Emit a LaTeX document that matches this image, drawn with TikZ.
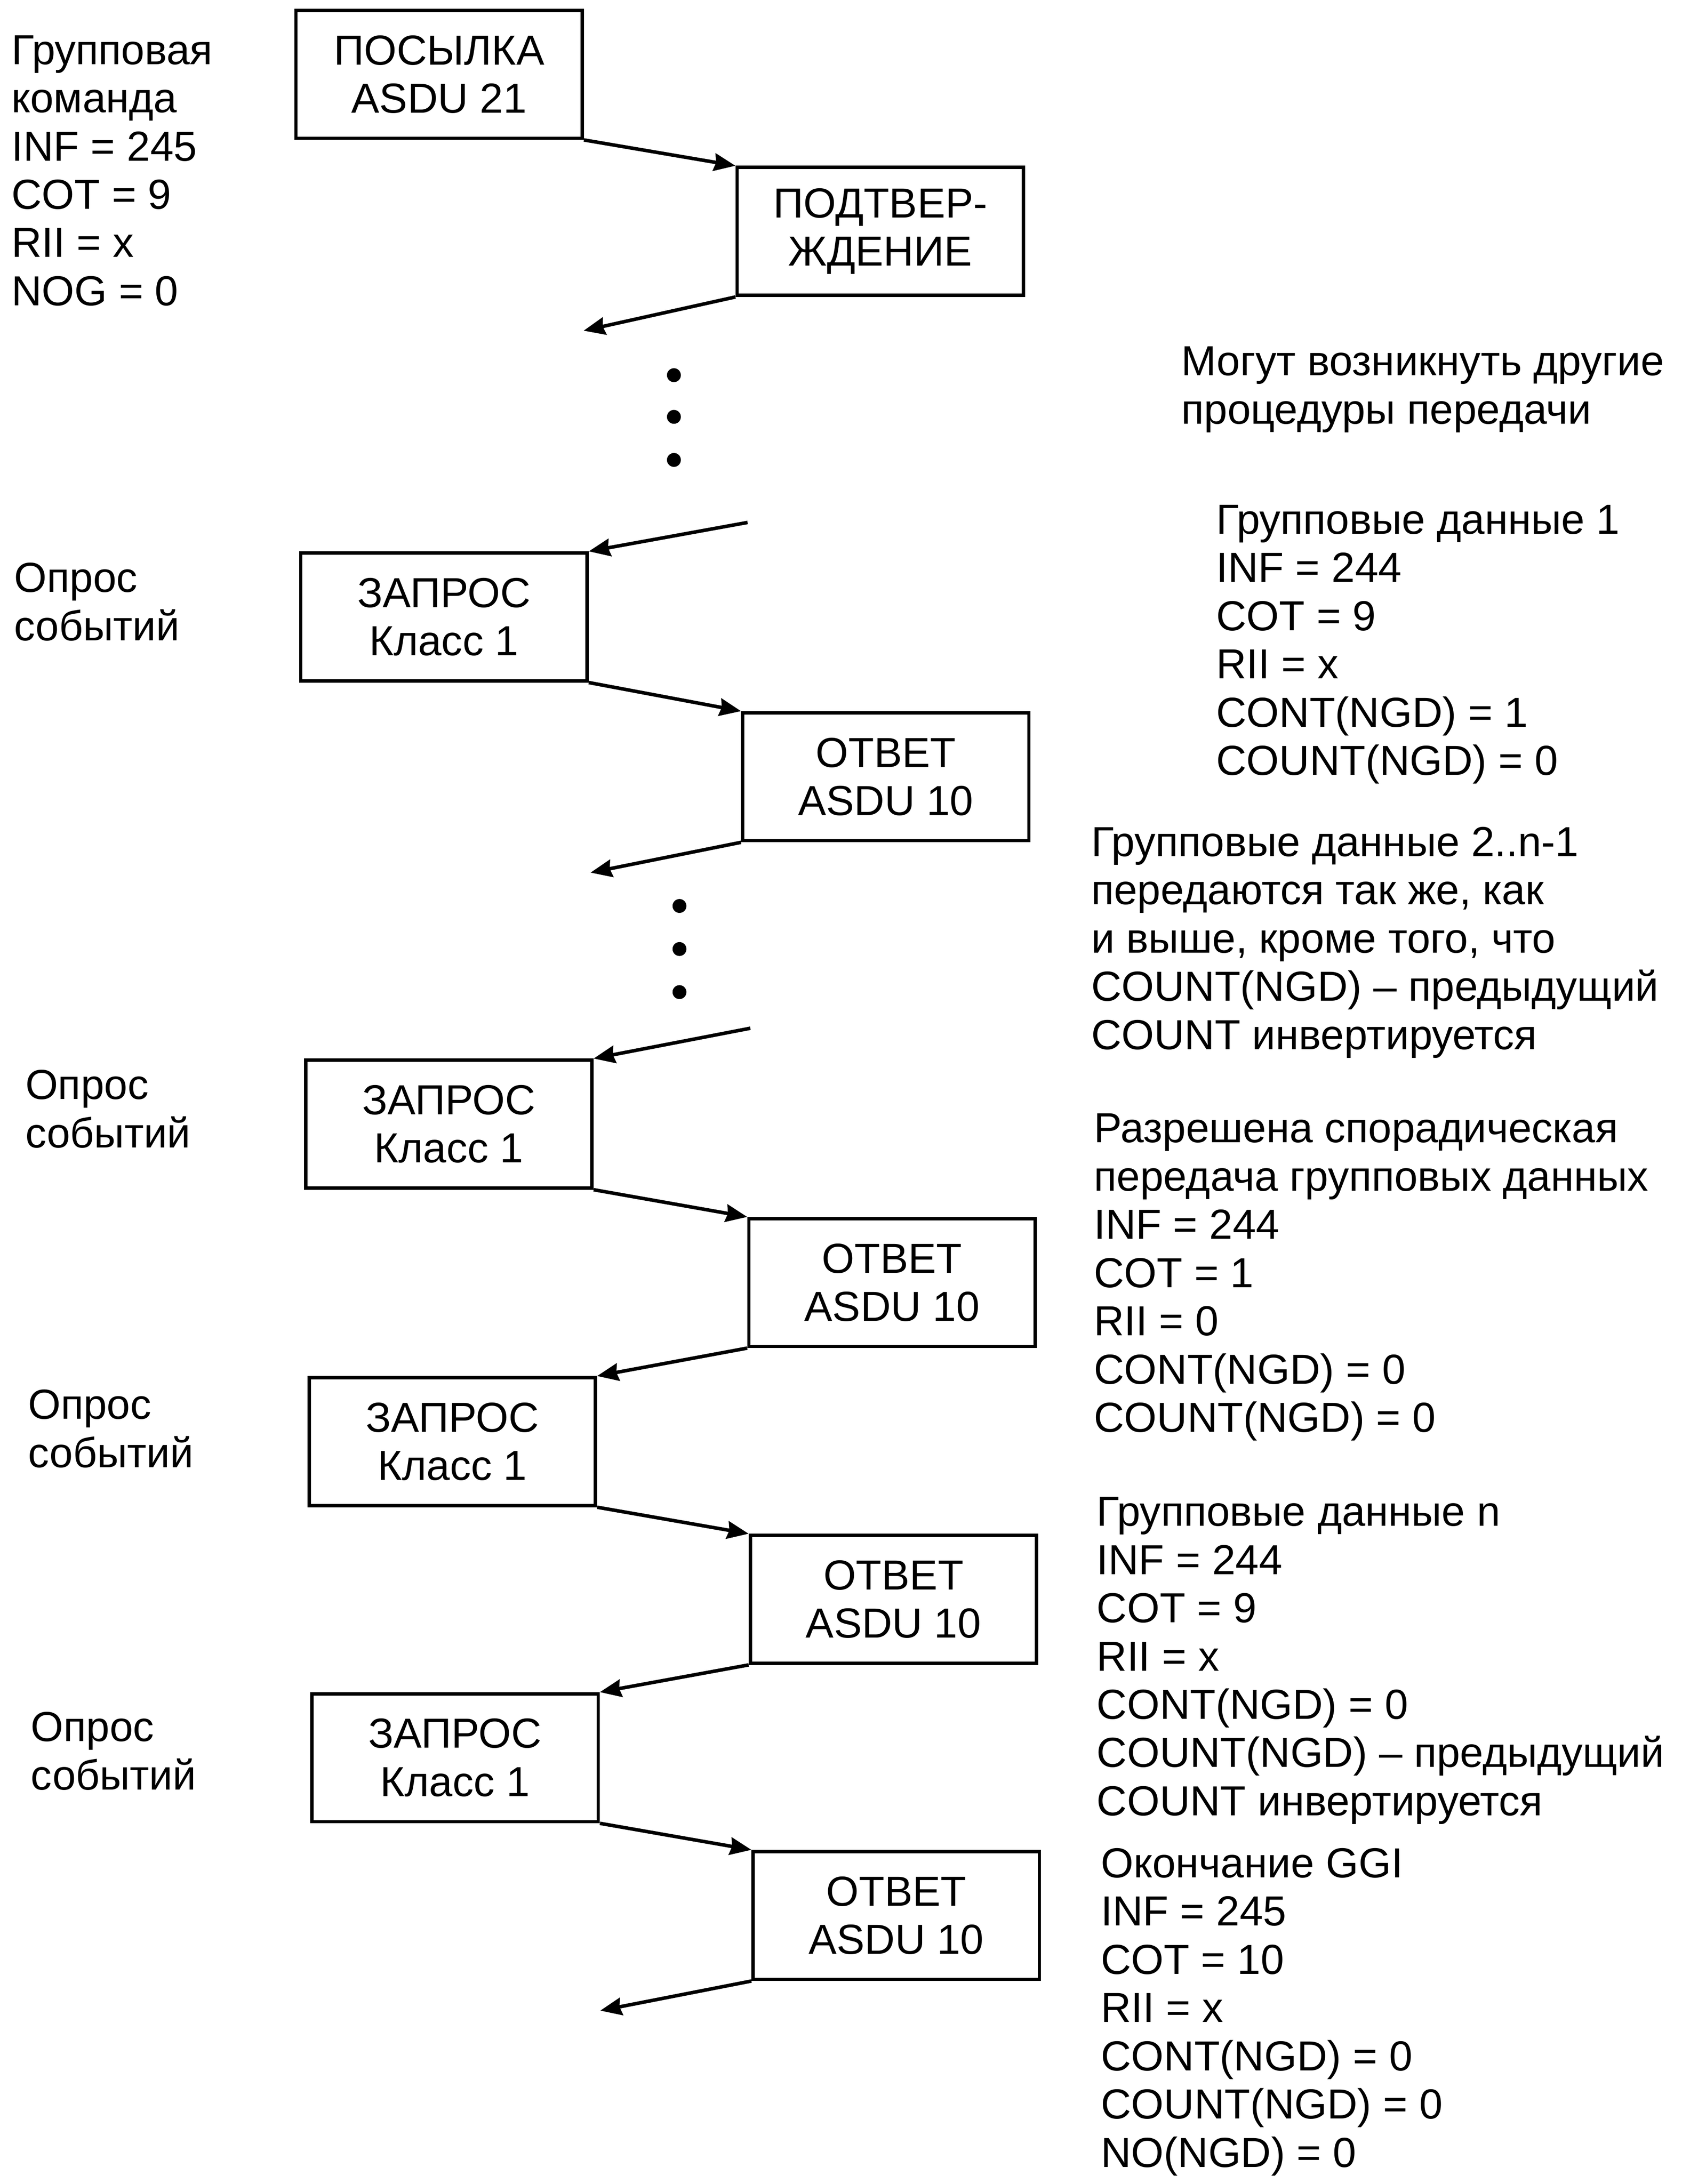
\documentclass[tikz,border=0pt]{standalone}
\usepackage{fontspec}
\setmainfont{Liberation Sans}
\usetikzlibrary{arrows.meta}
\newcommand{\fs}{\fontsize{21.5pt}{24.7pt}\selectfont}
\newcommand{\topln}{\rule{0pt}{1em}}
\begin{document}
\begin{tikzpicture}[x=0.025cm,y=-0.025cm]
                \tikzset{frame/.style = {shape=rectangle,draw,line width=1.7pt,minimum width=5.15cm,minimum height=2.3cm,align=center,font=\fs}}
                \tikzset{txt/.style = {anchor=north west,align=left,inner sep=0pt,font=\fs}}
                \tikzset{edge/.style = {line width=1.8pt,-{Stealth[length=11pt,width=9pt,inset=1pt]}}}
                \useasboundingbox (0,0) rectangle (1216,1571.8);

                \node[frame] (post) at (316, 53.5) {ПОСЫЛКА\\ASDU 21};
                \node[frame] (ack) at (633.5, 166.5) {ПОДТВЕР-\\ЖДЕНИЕ};
                \node[frame] (req1) at (319.5, 444) {ЗАПРОС\\Класс 1};
                \node[frame] (resp1) at (637.5, 559) {ОТВЕТ\\ASDU 10};
                \node[frame] (req2) at (323, 809) {ЗАПРОС\\Класс 1};
                \node[frame] (resp2) at (642, 923) {ОТВЕТ\\ASDU 10};
                \node[frame] (req3) at (325.5, 1037.5) {ЗАПРОС\\Класс 1};
                \node[frame] (resp3) at (643, 1151) {ОТВЕТ\\ASDU 10};
                \node[frame] (req4) at (327.5, 1265) {ЗАПРОС\\Класс 1};
                \node[frame] (resp4) at (645, 1378.5) {ОТВЕТ\\ASDU 10};

                \coordinate (e1) at (420, 238);
                \coordinate (s1) at (538, 376);
                \coordinate (e2) at (425, 628);
                \coordinate (s2) at (540, 740);
                \coordinate (e3) at (432, 1447);

                \draw[edge] (post.south east) to (ack.north west);
                \draw[edge] (ack.south west) to (e1);
                \draw[edge] (s1) to (req1.north east);
                \draw[edge] (req1.south east) to (resp1.north west);
                \draw[edge] (resp1.south west) to (e2);
                \draw[edge] (s2) to (req2.north east);
                \draw[edge] (req2.south east) to (resp2.north west);
                \draw[edge] (resp2.south west) to (req3.north east);
                \draw[edge] (req3.south east) to (resp3.north west);
                \draw[edge] (resp3.south west) to (req4.north east);
                \draw[edge] (req4.south east) to (resp4.north west);
                \draw[edge] (resp4.south west) to (e3);

                \foreach \y in {270,300,331} \fill (485,\y) circle (5);
                \foreach \y in {652,683,714} \fill (489,\y) circle (5);

                \node[txt] (cmd) at (8, 15.7) {\topln Групповая\\команда\\INF = 245\\COT = 9\\RII = x\\NOG = 0};
                \node[txt] (poll1) at (10, 395.7) {\topln Опрос\\событий};
                \node[txt] (poll2) at (18, 760.7) {\topln Опрос\\событий};
                \node[txt] (poll3) at (20, 990.7) {\topln Опрос\\событий};
                \node[txt] (poll4) at (22, 1222.7) {\topln Опрос\\событий};

                \node[txt] (other) at (850, 239.7) {\topln Могут возникнуть другие\\процедуры передачи};
                \node[txt] (gd1) at (875, 353.7) {\topln Групповые данные 1\\INF = 244\\COT = 9\\RII = x\\CONT(NGD) = 1\\COUNT(NGD) = 0};
                \node[txt] (gdmid) at (785, 585.7) {\topln Групповые данные 2..n-1\\передаются так же, как\\и выше, кроме того, что\\COUNT(NGD) – предыдущий\\COUNT инвертируется};
                \node[txt] (spor) at (787, 791.7) {\topln Разрешена спорадическая\\передача групповых данных\\INF = 244\\COT = 1\\RII = 0\\CONT(NGD) = 0\\COUNT(NGD) = 0};
                \node[txt] (gdn) at (789, 1067.7) {\topln Групповые данные n\\INF = 244\\COT = 9\\RII = x\\CONT(NGD) = 0\\COUNT(NGD) – предыдущий\\COUNT инвертируется};
                \node[txt] (fin) at (792, 1320.7) {\topln Окончание GGI\\INF = 245\\COT = 10\\RII = x\\CONT(NGD) = 0\\COUNT(NGD) = 0\\NO(NGD) = 0};
\end{tikzpicture}
\end{document}
